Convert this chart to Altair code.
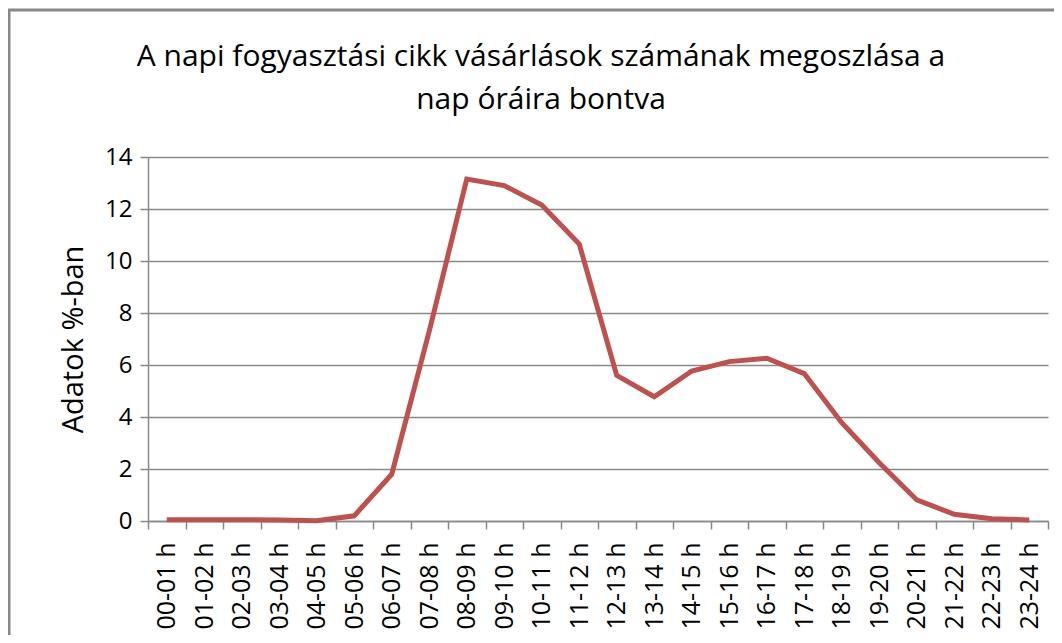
import altair as alt
import pandas as pd

hours = ["00-01 h", "01-02 h", "02-03 h", "03-04 h", "04-05 h", "05-06 h",
         "06-07 h", "07-08 h", "08-09 h", "09-10 h", "10-11 h", "11-12 h",
         "12-13 h", "13-14 h", "14-15 h", "15-16 h", "16-17 h", "17-18 h",
         "18-19 h", "19-20 h", "20-21 h", "21-22 h", "22-23 h", "23-24 h"]
values = [0.05, 0.05, 0.05, 0.04, 0.01, 0.2,
          1.8, 7.3, 13.15, 12.9, 12.15, 10.65,
          5.6, 4.78, 5.77, 6.13, 6.26, 5.67,
          3.78, 2.24, 0.81, 0.26, 0.09, 0.04]
y_ticks = [0, 2, 4, 6, 8, 10, 12, 14]
title_lines = ["A napi fogyasztási cikk vásárlások számának megoszlása a",
               "nap óráira bontva"]

df = pd.DataFrame({"ora": hours, "ertek": values})

FONT = "Open Sans"
GRID = "#888888"

line = alt.Chart(df).mark_line(color="#C0504D", strokeWidth=5).encode(
    x=alt.X("ora:N", sort=hours, bandPosition=0.5,
            scale=alt.Scale(type="band", paddingInner=0, paddingOuter=0),
            axis=alt.Axis(title=None, labelAngle=-90, labelAlign="right",
                          labelBaseline="middle", labelFontSize=25,
                          labelFont=FONT, labelColor="#000000",
                          tickBand="extent", tickSize=8, tickColor=GRID,
                          tickWidth=1.5, domainColor=GRID, domainWidth=1.5,
                          labelPadding=13, grid=False)),
    y=alt.Y("ertek:Q", scale=alt.Scale(domain=[0, 14], nice=False),
            axis=alt.Axis(title="Adatok %-ban", values=y_ticks,
                          titleFont=FONT, titleFontSize=29,
                          titleFontWeight="normal", titleColor="#000000",
                          titlePadding=16,
                          labelFont=FONT, labelFontSize=24,
                          labelColor="#000000", labelPadding=8,
                          tickSize=8, tickColor=GRID, tickWidth=1.5,
                          domainColor=GRID, domainWidth=1.5,
                          grid=True, gridColor=GRID, gridWidth=1.5)),
)

frame = alt.Chart(pd.DataFrame({"k": [0]})).mark_rect(
    fill=None, stroke="#888888", strokeWidth=3
).encode(
    x=alt.value(-139), x2=alt.value(1000),
    y=alt.value(-147), y2=alt.value(700),
)

title = alt.Chart(pd.DataFrame({"k": [0]})).mark_text(
    text=title_lines, font=FONT, fontSize=30, color="#000000",
    align="center", baseline="alphabetic", lineHeight=43,
).encode(
    x=alt.value(393), y=alt.value(-91),
)

chart = alt.layer(frame, line, title).properties(
    width=900, height=364,
    autosize=alt.AutoSizeParams(type="none"),
    padding={"left": 140, "top": 149, "right": 6, "bottom": 114},
).configure_view(stroke=None)

chart.save("out.html", embed_options={"renderer": "svg", "actions": False})
